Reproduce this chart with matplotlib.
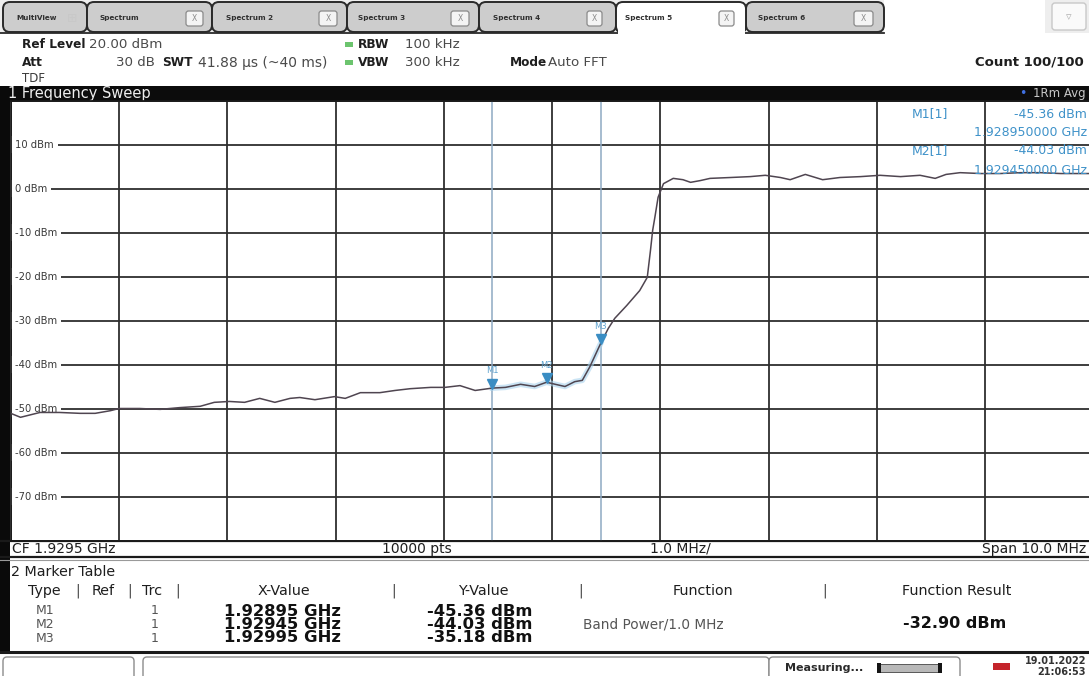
import numpy as np
import matplotlib
matplotlib.use("Agg")
import matplotlib.pyplot as plt
from matplotlib.patches import Rectangle, FancyBboxPatch
from matplotlib.transforms import blended_transform_factory

# ---------------- data ----------------
freq_ghz = [1.92450, 1.92459, 1.92477, 1.92495, 1.92514, 1.92528, 1.92542, 1.92550,
            1.92569, 1.92588, 1.92606, 1.92625, 1.92638, 1.92652, 1.92666, 1.92680,
            1.92694, 1.92708, 1.92717, 1.92731, 1.92749, 1.92759, 1.92773, 1.92791,
            1.92805, 1.92819, 1.92838, 1.92851, 1.92865, 1.92879, 1.92895, 1.92907,
            1.92921, 1.92934, 1.92945, 1.92953, 1.92962, 1.92971, 1.92978, 1.92985,
            1.92995, 1.93002, 1.93008, 1.93019, 1.93031, 1.93038, 1.93041, 1.93043,
            1.93045, 1.93048, 1.93053, 1.93062, 1.93071, 1.93078, 1.93087, 1.93096,
            1.93115, 1.93133, 1.93147, 1.93161, 1.93170, 1.93184, 1.93200, 1.93216,
            1.93235, 1.93253, 1.93272, 1.93290, 1.93304, 1.93314, 1.93327, 1.93346,
            1.93364, 1.93383, 1.93401, 1.93420, 1.93450]
level_dbm = [-51.1, -52.0, -50.9, -50.9, -51.1, -51.1, -50.5, -50.0,
             -50.0, -50.2, -49.8, -49.5, -48.6, -48.4, -48.6, -47.7,
             -48.6, -47.7, -47.5, -48.0, -47.3, -47.7, -46.4, -46.4,
             -45.9, -45.5, -45.2, -45.2, -44.8, -45.9, -45.36, -45.2,
             -44.5, -45.0, -44.03, -44.5, -45.0, -43.9, -43.6, -40.5,
             -35.18, -31.8, -29.5, -26.6, -23.2, -20.2, -14.0, -9.5,
             -6.6, -2.0, 1.1, 2.3, 2.0, 1.4, 1.8, 2.3,
             2.5, 2.7, 3.0, 2.5, 2.0, 3.2, 2.0, 2.5,
             2.7, 3.0, 2.7, 3.0, 2.3, 3.2, 3.6, 3.4,
             3.4, 3.6, 3.6, 3.4, 3.4]

marker_names = ["M1", "M2", "M3"]
marker_freq_ghz = [1.92895, 1.92945, 1.92995]
marker_level_dbm = [-45.36, -44.03, -35.18]
marker_x_labels = ["1.92895 GHz", "1.92945 GHz", "1.92995 GHz"]
marker_y_labels = ["-45.36 dBm", "-44.03 dBm", "-35.18 dBm"]

center_ghz = 1.9295
span_mhz = 10.0
ref_level_dbm = 20
range_db = 100
y_tick_values = [10, 0, -10, -20, -30, -40, -50, -60, -70]
band_power_result = "-32.90 dBm"

tab_names = ["MultiView", "Spectrum", "Spectrum 2", "Spectrum 3",
             "Spectrum 4", "Spectrum 5", "Spectrum 6"]

# ---------------- figure ----------------
W, H = 1089, 676
fig = plt.figure(figsize=(W / 100, H / 100), dpi=100)
fig.patch.set_facecolor("white")
plt.rcParams["font.family"] = ["DejaVu Sans"]

ui = fig.add_axes([0, 0, 1, 1])
ui.set_xlim(0, W)
ui.set_ylim(H, 0)
ui.axis("off")

def rect(x0, y0, x1, y1, fc, ec="none", lw=0, z=1, **kw):
    ui.add_patch(Rectangle((x0, y0), x1 - x0, y1 - y0, facecolor=fc,
                           edgecolor=ec, linewidth=lw, zorder=z, **kw))

def rbox(x0, y0, x1, y1, fc, ec, lw=1.0, r=5, z=2):
    ui.add_patch(FancyBboxPatch((x0, y0), x1 - x0, y1 - y0,
                                boxstyle=f"round,pad=0,rounding_size={r}",
                                facecolor=fc, edgecolor=ec, linewidth=lw, zorder=z))

def t(x, y, s, size=9, color="#222222", weight="normal", ha="left", va="center", z=5):
    ui.text(x, y, s, fontsize=size, color=color, fontweight=weight,
            ha=ha, va=va, zorder=z)

# ---------- tab bar ----------
rect(0, 0, W, 33, "#eeeeee", z=0)
rect(884, 0, 1045, 33, "#ffffff", z=0)
tab_x = [(3, 87), (87, 212), (212, 347), (347, 479), (479, 616), (616, 746), (746, 884)]
tab_text_x = [16, 99, 226, 358, 493, 625, 758]
close_x = [None, (186, 203), (319, 337), (451, 469), (587, 602), (719, 734), (854, 873)]
ui.plot([0, 884], [33, 33], color="#2a2a2a", lw=1.3, zorder=1)
for i, name in enumerate(tab_names):
    x0, x1 = tab_x[i]
    active = (name == "Spectrum 5")
    fc = "#ffffff" if active else "#cdcdcd"
    z = 6 if active else 2 + i * 0.01
    rbox(x0, 2, x1, 33 if active else 32, fc, "#2a2a2a", lw=1.4, r=7, z=z)
    if active:
        rect(x0 + 1.5, 26, x1 - 1.5, 36, "#ffffff", z=z + 0.1)
    ui.text(tab_text_x[i], 18, name, fontsize=5.2, fontweight="bold",
            color="#303030", ha="left", va="center", zorder=z + 0.2)
    if close_x[i] is not None:
        cx0, cx1 = close_x[i]
        rbox(cx0, 11, cx1, 26, "#f4f4f4", "#8a8a8a", lw=0.9, r=2.5, z=z + 0.2)
        ui.text((cx0 + cx1) / 2, 18.5, "X", fontsize=5.5, color="#8a8a8a",
                ha="center", va="center", zorder=z + 0.3)
ui.text(72, 18, "\u229e", fontsize=9, color="#c8c8c8", ha="center", va="center", zorder=3)
rbox(1052, 3, 1086, 30, "#fafafa", "#c8c8c8", lw=1.0, r=3, z=2)
ui.text(1069, 17, "\u25bf", fontsize=8, color="#b0b0b0", ha="center", va="center", zorder=3)

# ---------- header ----------
rect(0, 33.5, W, 87, "#ffffff", z=0.5)
LB, VS = 8.7, 9.6
t(22, 45, "Ref Level", LB, "#1e1e1e", "bold")
t(89, 45, "20.00 dBm", VS, "#4a4a4a")
t(22, 63, "Att", LB, "#1e1e1e", "bold")
t(155, 63, "30 dB", VS, "#4a4a4a", ha="right")
t(162, 63, "SWT", LB, "#1e1e1e", "bold")
t(198, 63, "41.88 \u00b5s (~40 ms)", 10, "#4a4a4a")
t(22, 78, "TDF", 8.5, "#3a3a3a")
for yy, lab, val in [(45, "RBW", "100 kHz"), (63, "VBW", "300 kHz")]:
    rect(345, yy - 3.5, 353, yy + 1.5, "#6cc46e", z=2)
    t(358, yy, lab, LB, "#1e1e1e", "bold")
    t(405, yy, val, VS, "#4a4a4a")
t(510, 63, "Mode", LB, "#1e1e1e", "bold")
t(548, 63, "Auto FFT", VS, "#4a4a4a")
t(1084, 62, "Count 100/100", 9.5, "#1e1e1e", "bold", ha="right")

# ---------- black title bar ----------
rect(0, 86, W, 100.5, "#0c0c0c", z=1)
t(8, 93.5, "1 Frequency Sweep", 10.5, "#eeeeee")
t(1023, 93.5, "\u2022", 9, "#3f6fe0", ha="center")
t(1086, 93.5, "1Rm Avg", 8.5, "#c8c8c8", ha="right")

# left frame
rect(0, 86, 9.5, 652, "#0a0a0a", z=3)

# ---------- bottom bar ----------
rect(0, 540, W, 557, "#ffffff", z=0.5)
ui.plot([0, W], [541, 541], color="#1a1a1a", lw=1.6, zorder=4)
ui.plot([0, W], [556.5, 556.5], color="#1a1a1a", lw=1.6, zorder=4)
ui.plot([0, W], [559.5, 559.5], color="#9a9a9a", lw=0.8, zorder=4)
BS = 10
t(12, 549, "CF 1.9295 GHz", BS, "#1e1e1e")
t(382, 549, "10000 pts", BS, "#1e1e1e")
t(650, 549, "1.0 MHz/", BS, "#1e1e1e")
t(1086, 549, "Span 10.0 MHz", BS, "#1e1e1e", ha="right")

# ---------- marker table ----------
TS = 10.3
t(11, 572, "2 Marker Table", TS, "#1e1e1e")
hy = 591
t(28, hy, "Type", TS, "#1e1e1e")
t(78, hy, "|", TS, "#444444", ha="center")
t(92, hy, "Ref", TS, "#1e1e1e")
t(130, hy, "|", TS, "#444444", ha="center")
t(142, hy, "Trc", TS, "#1e1e1e")
t(178, hy, "|", TS, "#444444", ha="center")
t(284, hy, "X-Value", TS, "#1e1e1e", ha="center")
t(394, hy, "|", TS, "#444444", ha="center")
t(483, hy, "Y-Value", TS, "#1e1e1e", ha="center")
t(581, hy, "|", TS, "#444444", ha="center")
t(703, hy, "Function", TS, "#1e1e1e", ha="center")
t(825, hy, "|", TS, "#444444", ha="center")
t(957, hy, "Function Result", TS, "#1e1e1e", ha="center")
row_y = [611, 624.5, 638]
for i, name in enumerate(marker_names):
    t(45, row_y[i], name, 9, "#555555", ha="center")
    t(155, row_y[i], "1", 9, "#555555", ha="center")
    t(282, row_y[i], marker_x_labels[i], 11.8, "#111111", "bold", ha="center")
    t(480, row_y[i], marker_y_labels[i], 11.8, "#111111", "bold", ha="center")
t(583, 624.5, "Band Power/1.0 MHz", 9.8, "#555555")
t(955, 623.5, band_power_result, 11.5, "#111111", "bold", ha="center")
ui.plot([0, W], [652, 652], color="#1a1a1a", lw=2.2, zorder=4)

# ---------- status bar ----------
rect(0, 653, W, H, "#ffffff", z=0.5)
rbox(3, 657, 134, 684, "#ffffff", "#8c8c8c", lw=1.0, r=4)
rbox(143, 657, 769, 684, "#ffffff", "#8c8c8c", lw=1.0, r=4)
rbox(769, 657, 960, 684, "#ffffff", "#8c8c8c", lw=1.0, r=4)
t(785, 668, "Measuring...", 8, "#2a2a2a", "bold")
rect(878, 664, 941, 672, "#b8b8b8", "#444444", lw=0.6, z=4)
rect(877, 663, 881, 673, "#151515", z=5)
rect(938, 663, 942, 673, "#151515", z=5)
rect(993, 663, 1010, 670, "#c4242b", z=4)
t(1086, 661, "19.01.2022", 7, "#333333", "bold", ha="right")
t(1086, 672, "21:06:53", 7, "#333333", "bold", ha="right")

# ---------------- spectrum plot ----------------
px0, px1 = 10.75, 1093.25
py0, py1 = 100.5, 540.5
ax = fig.add_axes([px0 / W, 1 - py1 / H, (px1 - px0) / W, (py1 - py0) / H], zorder=2)
ax.set_facecolor("white")
f_lo = center_ghz - span_mhz / 2000
f_hi = center_ghz + span_mhz / 2000
ax.set_xlim(f_lo, f_hi)
ax.set_ylim(ref_level_dbm - range_db, ref_level_dbm)
ax.set_xticks(np.linspace(f_lo, f_hi, 11))
ax.set_yticks(np.arange(ref_level_dbm - range_db, ref_level_dbm + 1, 10))
ax.tick_params(length=0, labelbottom=False, labelleft=False)
ax.grid(True, color="#2e2e2e", lw=1.3)
ax.set_axisbelow(True)
for s in ax.spines.values():
    s.set_color("#1a1a1a")
    s.set_linewidth(1.3)

# band power limits
for f in (marker_freq_ghz[0], marker_freq_ghz[2]):
    ax.axvline(f, color="#8ea9c2", lw=1.1, zorder=1.5)

# y labels inside the plot
tr = blended_transform_factory(ax.transAxes, ax.transData)
for v in y_tick_values:
    ax.text(0.004, v, f"{v} dBm", transform=tr, fontsize=7.2, color="#3a3a3a",
            ha="left", va="center", zorder=2,
            bbox=dict(boxstyle="square,pad=0.38", fc="white", ec="none"))

# band-power highlight and trace
fa = np.array(freq_ghz)
la = np.array(level_dbm)
sel = (fa >= marker_freq_ghz[0]) & (fa <= marker_freq_ghz[2])
ax.plot(fa[sel], la[sel], color="#a9d3ee", lw=4, alpha=0.6, zorder=2.5)
ax.plot(freq_ghz, level_dbm, color="#4f4550", lw=1.1, zorder=3)

# markers
for name, f, l in zip(marker_names, marker_freq_ghz, marker_level_dbm):
    ax.plot([f], [l + 1.0], marker="v", ms=6.5, color="#3a8dc3", zorder=4, ls="none")
    ax.text(f, l + 3.9, name, fontsize=6, color="#5ea2cf", ha="center", va="center", zorder=4)

# marker info (top right)
ic = "#3f92c9"
for yy, s, xx, ha in [(114, "M1[1]", 912, "left"), (114, "-45.36 dBm", 1087, "right"),
                      (133, "1.928950000 GHz", 1087, "right"),
                      (151, "M2[1]", 912, "left"), (151, "-44.03 dBm", 1087, "right"),
                      (170, "1.929450000 GHz", 1087, "right")]:
    fig.text(xx, yy, s, transform=ui.transData, fontsize=9, color=ic,
             ha=ha, va="center", zorder=10)

fig.savefig("out.png", dpi=100, facecolor="white")
